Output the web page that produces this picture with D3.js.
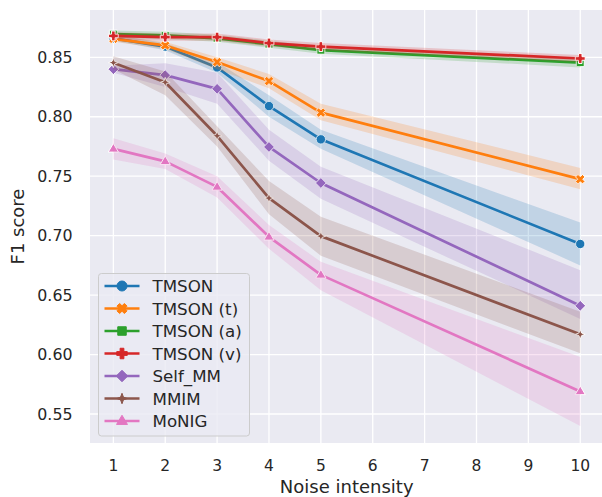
<!DOCTYPE html>
<html>
<head>
<meta charset="utf-8">
<script src="https://cdn.jsdelivr.net/npm/d3@7"></script>
<style>
  html, body { margin: 0; padding: 0; background: #ffffff; }
  svg { display: block; font-family: "DejaVu Sans", sans-serif; }
</style>
</head>
<body>
<div id="chart"></div>
<script>
const noise = [1, 2, 3, 4, 5, 10];
const xTicks = [1, 2, 3, 4, 5, 6, 7, 8, 9, 10];
const yTicks = [0.55, 0.60, 0.65, 0.70, 0.75, 0.80, 0.85];

const names = ['TMSON', 'TMSON (t)', 'TMSON (a)', 'TMSON (v)', 'Self_MM', 'MMIM', 'MoNIG'];
const colors = ['#1f77b4', '#ff7f0e', '#2ca02c', '#d62728', '#9467bd', '#8c564b', '#e377c2'];
const markers = ['circle', 'x', 'square', 'plus', 'diamond', 'star', 'triangle'];

// mean F1 per noise level
const tmson   = [0.866, 0.859, 0.8415, 0.809, 0.781, 0.693];
const tmsonT  = [0.8655, 0.860, 0.846, 0.830, 0.8035, 0.7475];
const tmsonA  = [0.8695, 0.8685, 0.866, 0.861, 0.856, 0.8455];
const tmsonV  = [0.868, 0.867, 0.867, 0.862, 0.859, 0.849];
const selfMM  = [0.840, 0.835, 0.8235, 0.7746, 0.7443, 0.641];
const mmim    = [0.8455, 0.829, 0.784, 0.7316, 0.6996, 0.617];
const monig   = [0.773, 0.7625, 0.741, 0.699, 0.667, 0.569];

// confidence band, lower / upper
const tmsonLo  = [0.864, 0.856, 0.837, 0.800, 0.773, 0.675];
const tmsonHi  = [0.869, 0.862, 0.846, 0.818, 0.789, 0.711];
const tmsonTLo = [0.863, 0.857, 0.840, 0.824, 0.797, 0.739];
const tmsonTHi = [0.868, 0.863, 0.850, 0.836, 0.811, 0.757];
const tmsonALo = [0.8665, 0.8655, 0.863, 0.858, 0.853, 0.8415];
const tmsonAHi = [0.8725, 0.8715, 0.869, 0.864, 0.859, 0.8495];
const tmsonVLo = [0.865, 0.864, 0.864, 0.859, 0.856, 0.846];
const tmsonVHi = [0.871, 0.870, 0.870, 0.865, 0.862, 0.852];
const selfLo   = [0.837, 0.825, 0.811, 0.763, 0.731, 0.630];
const selfHi   = [0.843, 0.845, 0.837, 0.789, 0.758, 0.671];
const mmimLo   = [0.840, 0.818, 0.775, 0.718, 0.683, 0.601];
const mmimHi   = [0.851, 0.838, 0.792, 0.746, 0.716, 0.636];
const monigLo  = [0.764, 0.756, 0.732, 0.689, 0.654, 0.540];
const monigHi  = [0.782, 0.769, 0.750, 0.709, 0.678, 0.598];

const means = [tmson, tmsonT, tmsonA, tmsonV, selfMM, mmim, monig];
const lows  = [tmsonLo, tmsonTLo, tmsonALo, tmsonVLo, selfLo, mmimLo, monigLo];
const highs = [tmsonHi, tmsonTHi, tmsonAHi, tmsonVHi, selfHi, mmimHi, monigHi];

const width = 602, height = 497;
const plot = { left: 90, top: 10, right: 603.6, bottom: 443 };

const x = d3.scaleLinear().domain([0.55, 10.45]).range([plot.left, plot.right]);
const y = d3.scaleLinear().domain([0.5256, 0.8898]).range([plot.bottom, plot.top]);

const svg = d3.select('#chart').append('svg')
  .attr('width', width)
  .attr('height', height);

svg.append('defs').append('clipPath').attr('id', 'clip')
  .append('rect')
  .attr('x', plot.left).attr('y', plot.top)
  .attr('width', plot.right - plot.left).attr('height', plot.bottom - plot.top);

// background
svg.append('rect')
  .attr('x', plot.left).attr('y', plot.top)
  .attr('width', plot.right - plot.left).attr('height', plot.bottom - plot.top)
  .attr('fill', '#eaeaf2');

// grid
const grid = svg.append('g').attr('clip-path', 'url(#clip)');
grid.selectAll('line.gx').data(xTicks).join('line')
  .attr('x1', d => x(d)).attr('x2', d => x(d))
  .attr('y1', plot.top).attr('y2', plot.bottom)
  .attr('stroke', '#fff').attr('stroke-width', 1.3);
grid.selectAll('line.gy').data(yTicks).join('line')
  .attr('x1', plot.left).attr('x2', plot.right)
  .attr('y1', d => y(d)).attr('y2', d => y(d))
  .attr('stroke', '#fff').attr('stroke-width', 1.3);

// marker shapes, s = half size
function markerPath(type, s) {
  const p = d3.path();
  if (type === 'circle') {
    p.arc(0, 0, s, 0, 2 * Math.PI);
  } else if (type === 'square') {
    const h = s * 0.85;
    p.rect(-h, -h, 2 * h, 2 * h);
  } else if (type === 'diamond') {
    const h = s * 1.15;
    p.moveTo(0, -h); p.lineTo(h, 0); p.lineTo(0, h); p.lineTo(-h, 0); p.closePath();
  } else if (type === 'triangle') {
    const h = s * 1.15;
    p.moveTo(0, -h); p.lineTo(h * 0.95, h * 0.6); p.lineTo(-h * 0.95, h * 0.6); p.closePath();
  } else if (type === 'star') {
    const r = s * 1.05, ri = r * 0.38;
    for (let i = 0; i < 8; i++) {
      const a = -Math.PI / 2 + i * Math.PI / 4;
      const rr = i % 2 === 0 ? r : ri;
      if (i === 0) p.moveTo(rr * Math.cos(a), rr * Math.sin(a));
      else p.lineTo(rr * Math.cos(a), rr * Math.sin(a));
    }
    p.closePath();
  } else {
    // filled plus, rotated for x
    const h = s * 1.05, t = h * 0.36;
    const pts = [[-t, -h], [t, -h], [t, -t], [h, -t], [h, t], [t, t], [t, h], [-t, h], [-t, t], [-h, t], [-h, -t], [-t, -t]];
    const ang = type === 'x' ? Math.PI / 4 : 0;
    pts.forEach(([px, py], i) => {
      const rx = px * Math.cos(ang) - py * Math.sin(ang);
      const ry = px * Math.sin(ang) + py * Math.cos(ang);
      if (i === 0) p.moveTo(rx, ry); else p.lineTo(rx, ry);
    });
    p.closePath();
  }
  return p.toString();
}

const line = d3.line().x(d => x(d.x)).y(d => y(d.y));
const area = d3.area().x(d => x(d.x)).y0(d => y(d.lo)).y1(d => y(d.hi));

const marks = svg.append('g').attr('clip-path', 'url(#clip)');

names.forEach((name, i) => {
  const pts = noise.map((n, j) => ({ x: n, y: means[i][j], lo: lows[i][j], hi: highs[i][j] }));
  const g = marks.append('g');

  g.append('path')
    .datum(pts)
    .attr('d', line)
    .attr('fill', 'none')
    .attr('stroke', colors[i])
    .attr('stroke-width', 2.7)
    .attr('stroke-linejoin', 'round')
    .attr('stroke-linecap', 'round');

  g.selectAll('path.m').data(pts).join('path')
    .attr('class', 'm')
    .attr('transform', d => `translate(${x(d.x)},${y(d.y)})`)
    .attr('d', markerPath(markers[i], 4.7))
    .attr('fill', colors[i])
    .attr('stroke', '#fff')
    .attr('stroke-width', 1);

  g.append('path')
    .datum(pts)
    .attr('d', area)
    .attr('fill', colors[i])
    .attr('fill-opacity', 0.2)
    .attr('stroke', 'none');
});

// axes labels
const textColor = '#262626';
svg.append('g').selectAll('text').data(yTicks).join('text')
  .attr('x', 72.5)
  .attr('y', d => y(d))
  .attr('dy', '0.36em')
  .attr('text-anchor', 'end')
  .attr('font-size', 15.8)
  .attr('fill', textColor)
  .text(d => d.toFixed(2));

svg.append('g').selectAll('text').data(xTicks).join('text')
  .attr('x', d => x(d))
  .attr('y', 470.5)
  .attr('text-anchor', 'middle')
  .attr('font-size', 15.5)
  .attr('fill', textColor)
  .text(d => d);

svg.append('text')
  .attr('x', 346.7)
  .attr('y', 493)
  .attr('text-anchor', 'middle')
  .attr('font-size', 18)
  .attr('fill', textColor)
  .text('Noise intensity');

svg.append('text')
  .attr('transform', `translate(24,${(plot.top + plot.bottom) / 2}) rotate(-90)`)
  .attr('text-anchor', 'middle')
  .attr('font-size', 18)
  .attr('fill', textColor)
  .text('F1 score');

// legend
const legend = svg.append('g').attr('transform', 'translate(98.5,273.5)');
legend.append('rect')
  .attr('width', 151).attr('height', 162.5)
  .attr('rx', 3)
  .attr('fill', '#eaeaf2').attr('fill-opacity', 0.8)
  .attr('stroke', '#cccccc').attr('stroke-width', 1);

names.forEach((name, i) => {
  const row = legend.append('g').attr('transform', `translate(0,${12.5 + i * 22.5})`);
  row.append('line')
    .attr('x1', 6).attr('x2', 41)
    .attr('stroke', colors[i]).attr('stroke-width', 2.7);
  row.append('path')
    .attr('transform', 'translate(23.5,0)')
    .attr('d', markerPath(markers[i], 5))
    .attr('fill', colors[i])
    .attr('stroke', colors[i])
    .attr('stroke-width', 1);
  row.append('text')
    .attr('x', 54)
    .attr('dy', '0.36em')
    .attr('font-size', 16.7)
    .attr('fill', textColor)
    .text(name);
});
</script>
</body>
</html>
